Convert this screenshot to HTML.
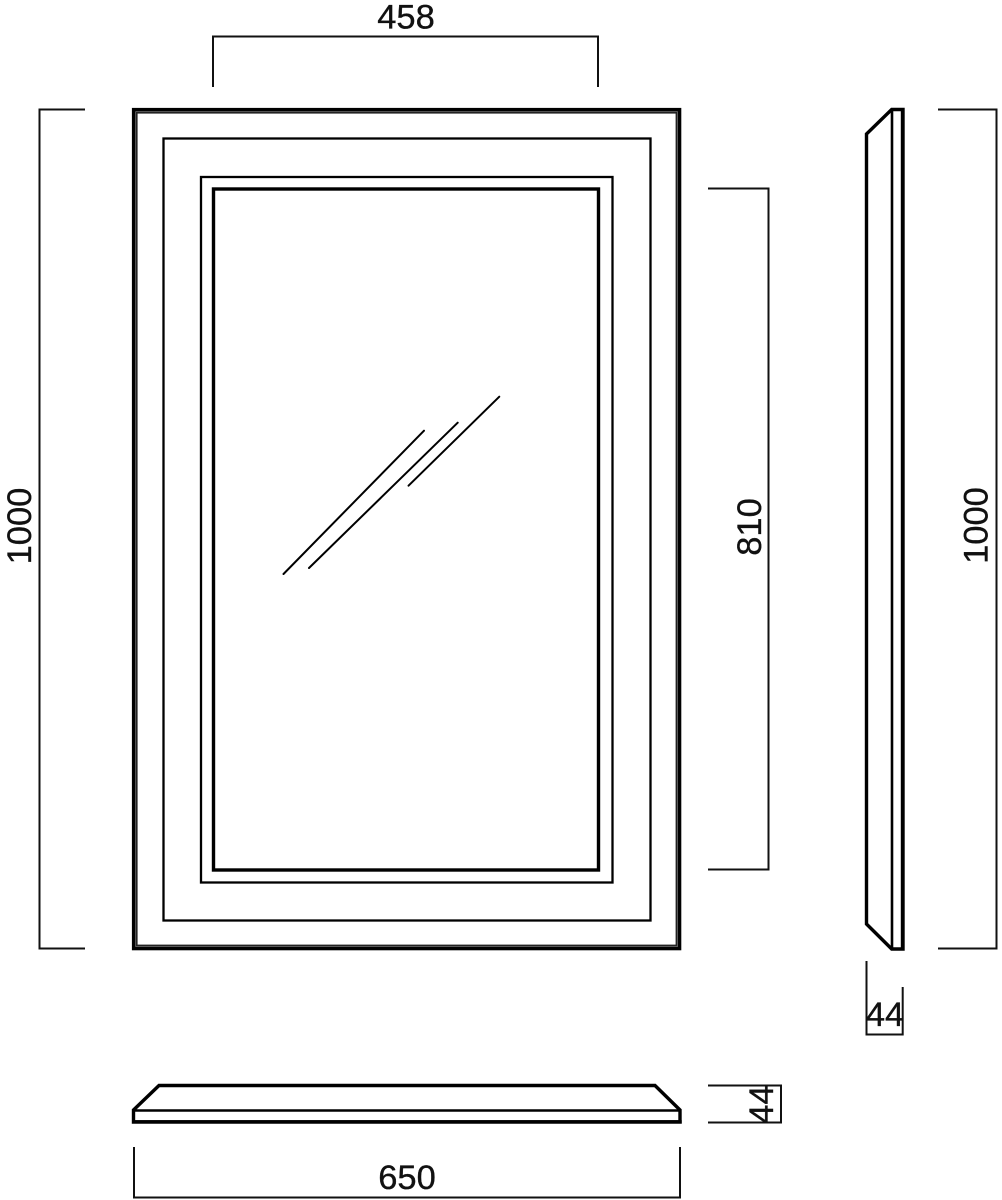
<!DOCTYPE html>
<html>
<head>
<meta charset="utf-8">
<style>
html,body{margin:0;padding:0;background:#fff;width:1002px;height:1200px;overflow:hidden}
svg{display:block}
text{font-family:"Liberation Sans",sans-serif;font-size:34.5px;fill:#111;stroke:#111;stroke-width:.35;text-anchor:middle}
</style>
</head>
<body>
<svg width="1002" height="1200" viewBox="0 0 1002 1200" xmlns="http://www.w3.org/2000/svg">
<g fill="none" stroke="#000" stroke-linecap="square" stroke-linejoin="miter">
  <!-- front view -->
  <rect x="133.7" y="109.7" width="545.8" height="838.8" stroke-width="3.6"/>
  <rect x="136.7" y="112.7" width="539.8" height="832.8" stroke-width="1.8" stroke="#222"/>
  <rect x="163.5" y="138.5" width="487" height="782" stroke-width="2.3"/>
  <rect x="201" y="177" width="411.5" height="705.5" stroke-width="2.3"/>
  <rect x="213.5" y="189" width="385" height="681" stroke-width="3.4"/>
  <!-- glass highlights -->
  <g stroke-width="2" stroke-linecap="round">
    <line x1="283.5" y1="574" x2="424" y2="430.7"/>
    <line x1="309" y1="568" x2="457.7" y2="422.7"/>
    <line x1="408.5" y1="485.7" x2="499.3" y2="396.7"/>
  </g>
  <!-- side view -->
  <path d="M891.7 109.5H903V949H891.7L866.5 924V134Z" stroke-width="3.4"/>
  <line x1="892" y1="110" x2="892" y2="948" stroke-width="2.6"/>
  <line x1="902.5" y1="110" x2="902.5" y2="948" stroke-width="3.4"/>
  <!-- bottom view -->
  <path d="M159 1085.5H655L680 1110V1122H133.5V1110Z" stroke-width="3.4"/>
  <line x1="134" y1="1110.5" x2="680" y2="1110.5" stroke-width="2.6"/>
  <line x1="134" y1="1121.8" x2="680" y2="1121.8" stroke-width="3.4"/>
</g>
<g fill="none" stroke="#111" stroke-width="2">
  <!-- dims -->
  <path d="M213 87V36.5H598V87"/>
  <path d="M85 109.5H39.5V948.5H85"/>
  <path d="M708 188.5H768.5V869.5H708"/>
  <path d="M938 109.5H996.5V948.5H938"/>
  <path d="M134 1147V1197.5H680V1147"/>
  <path d="M866.5 961V1034.5H902.7V987"/>
  <path d="M708 1085.5H781V1122.5H708"/>
</g>
<text x="406" y="28.5">458</text>
<text x="407" y="1189">650</text>
<text transform="translate(31 526) rotate(-90)">1000</text>
<text transform="translate(761 527) rotate(-90)">810</text>
<text transform="translate(987.5 525.5) rotate(-90)">1000</text>
<text x="885" y="1026">44</text>
<text transform="translate(773 1104.5) rotate(-90)">44</text>
</svg>
</body>
</html>
